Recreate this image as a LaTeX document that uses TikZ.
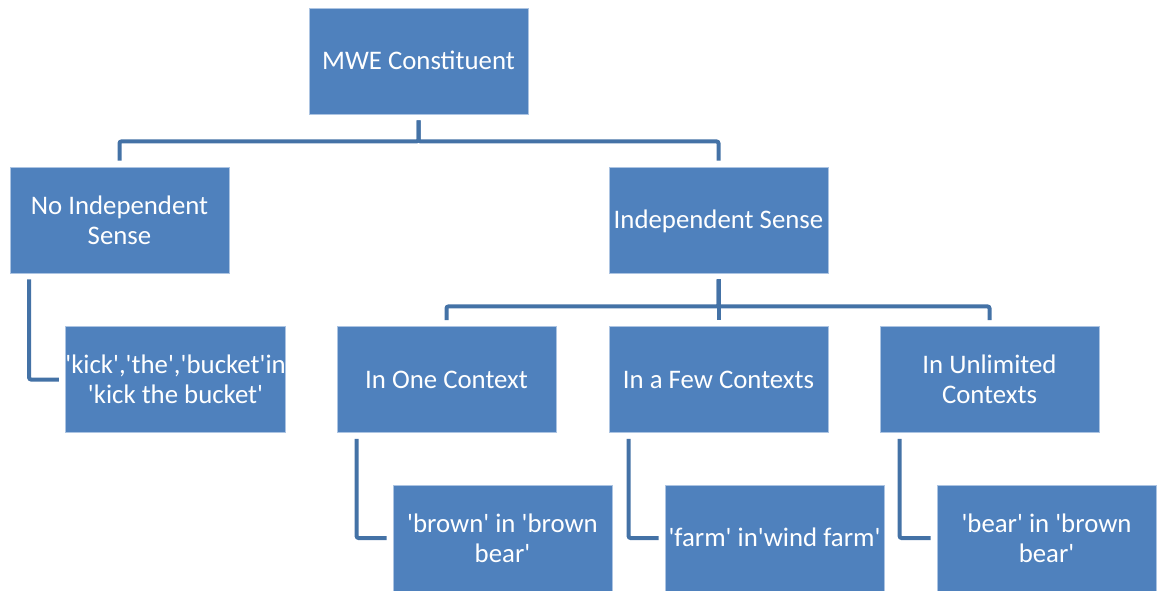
\documentclass[tikz,border=0pt]{standalone}
\usepackage{fontspec}
\setmainfont{Carlito}
\definecolor{boxfill}{RGB}{79,129,189}
\definecolor{boxedge}{RGB}{172,196,226}
\definecolor{linkcol}{RGB}{68,114,166}
\newcommand{\q}{\textquotesingle}
\begin{document}
\begin{tikzpicture}[x=1pt,y=-1pt,
  blk/.style={draw=boxedge,line width=0.8pt,fill=boxfill,text=white,
    minimum width=219pt,minimum height=106pt,inner sep=0pt,align=center,
    font=\fontsize{26.8}{30}\selectfont},
  oneline/.style={text height=20pt,text depth=3pt},
  conn/.style={draw=linkcol,line width=4pt,rounded corners=2pt}]
\useasboundingbox (0,0) rectangle (1160,590);
% tree boxes
\node[blk,oneline] (mwe) at (418.5,61)  {MWE Constituent};
\node[blk] (noind) at (119.5,220) {No Independent\\Sense};
\node[blk,oneline] (ind) at (718.5,220) {Independent Sense};
\node[blk] (kick)  at (175.5,379.5) {\q kick\q,\q the\q,\q bucket\q in\\\q kick the bucket\q};
\node[blk,oneline] (one) at (446.5,379.5) {In One Context};
\node[blk,oneline] (few) at (718.5,379.5) {In a Few Contexts};
\node[blk] (unl)   at (989.5,379.5) {In Unlimited\\Contexts};
\node[blk] (brown) at (502.5,538) {\q brown\q{} in \q brown\\bear\q};
\node[blk,oneline] (farm) at (774.5,538) {\q farm\q{} in\q wind farm\q};
\node[blk] (bear)  at (1046.5,538) {\q bear\q{} in \q brown\\bear\q};
% first level branches
\draw[conn] ([yshift=-6pt]mwe.south) |- ++(0,21) -| ([yshift=6pt]noind.north);
\draw[conn] ([yshift=-6pt]mwe.south) |- ++(0,21) -| ([yshift=6pt]ind.north);
% second level branches
\draw[conn] ([yshift=-6pt]ind.south) -- ([yshift=6pt]few.north);
\draw[conn] ([yshift=-6pt]ind.south) |- ++(0,27) -| ([yshift=6pt]one.north);
\draw[conn] ([yshift=-6pt]ind.south) |- ++(0,27) -| ([yshift=6pt]unl.north);
% example links
\draw[conn] ([xshift=19.5pt,yshift=-6pt]noind.south west) |- ([xshift=-6pt]kick.west);
\draw[conn] ([xshift=20pt,yshift=-6pt]one.south west) |- ([xshift=-6pt]brown.west);
\draw[conn] ([xshift=20pt,yshift=-6pt]few.south west) |- ([xshift=-6pt]farm.west);
\draw[conn] ([xshift=20pt,yshift=-6pt]unl.south west) |- ([xshift=-6pt]bear.west);
\end{tikzpicture}
\end{document}
